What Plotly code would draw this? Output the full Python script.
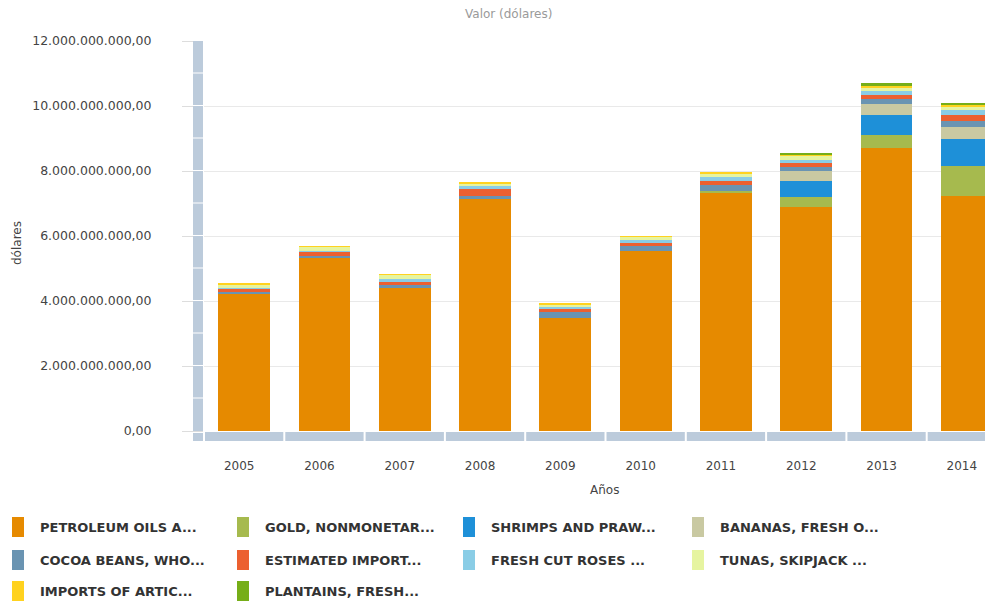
import plotly.graph_objects as go

# ---------------- data (values in US dollars) ----------------
years = ["2005", "2006", "2007", "2008", "2009", "2010", "2011", "2012", "2013", "2014"]

petroleum = [4.22e9, 5.35e9, 4.39e9, 7.14e9, 3.48e9, 5.55e9, 7.34e9, 6.90e9, 8.72e9, 7.22e9]
gold      = [0, 0, 0, 0, 0, 0, 0.05e9, 0.29e9, 0.38e9, 0.92e9]
shrimps   = [0, 0, 0, 0, 0, 0, 0, 0.49e9, 0.61e9, 0.86e9]
bananas   = [0, 0, 0, 0, 0, 0, 0, 0.33e9, 0.34e9, 0.34e9]
cocoa     = [0.05e9, 0.03e9, 0.10e9, 0.10e9, 0.17e9, 0.13e9, 0.17e9, 0.12e9, 0.17e9, 0.20e9]
estimated = [0.10e9, 0.13e9, 0.10e9, 0.20e9, 0.10e9, 0.10e9, 0.13e9, 0.12e9, 0.13e9, 0.17e9]
roses     = [0.02e9, 0.02e9, 0.10e9, 0.10e9, 0.07e9, 0.10e9, 0.12e9, 0.09e9, 0.10e9, 0.16e9]
tunas     = [0.13e9, 0.14e9, 0.12e9, 0.08e9, 0.08e9, 0.10e9, 0.12e9, 0.13e9, 0.13e9, 0.12e9]
imports   = [0.01e9, 0.01e9, 0.02e9, 0.02e9, 0.02e9, 0.02e9, 0.02e9, 0.02e9, 0.03e9, 0.04e9]
plantains = [0, 0, 0, 0, 0, 0, 0, 0.07e9, 0.10e9, 0.07e9]

series_names = ["PETROLEUM OILS A...", "GOLD, NONMONETAR...", "SHRIMPS AND PRAW...", "BANANAS, FRESH O...",
                "COCOA BEANS, WHO...", "ESTIMATED IMPORT...", "FRESH CUT ROSES ...", "TUNAS, SKIPJACK ...",
                "IMPORTS OF ARTIC...", "PLANTAINS, FRESH..."]
series_values = [petroleum, gold, shrimps, bananas, cocoa, estimated, roses, tunas, imports, plantains]
series_colors = ["#E68A00", "#A6BA4E", "#1E90D8", "#C9C9A2", "#6A94B2",
                 "#EC6030", "#8ACDE6", "#E6F4A0", "#FFD21F", "#76AE18"]

y_max = 12e9
y_dtick = 2e9
chart_title = "Valor (dólares)"
y_title = "dólares"
x_title = "Años"

# ---------------- layout geometry ----------------
# the page body has an 8px margin: figure origin sits at screen (8, 8)
OX, OY = 8, 8
W, H = 993 - OX, 601 - OY
L = 204 - OX          # plot-area left edge (screen 204)
T = 41 - OY           # plot-area top (screen 41)
BOT = 431 - OY        # plot-area bottom (screen 431)
R = 0
B = H - BOT
PW = W - L - R
PH = BOT - T
cat_px = 80.3
xmin = -0.5
xmax = xmin + PW / cat_px


def px_x(p):  # screen px -> paper x
    return (p - OX - L) / PW


def px_y(p):  # screen px -> paper y
    return (BOT - (p - OY)) / PH


fig = go.Figure()
for name, vals, col in zip(series_names, series_values, series_colors):
    fig.add_trace(go.Bar(x=years, y=vals, name=name, marker=dict(color=col, line=dict(width=0)),
                         width=0.644, showlegend=False))

band = "#BCCBDB"
shapes = []
# vertical axis wall with white separators every 1e9
n_seg = int(y_max / 1e9)
for k in range(n_seg):
    y0 = k / n_seg
    y1 = (k + 1) / n_seg
    shapes.append(dict(type="rect", xref="paper", yref="paper",
                       x0=px_x(193), x1=px_x(203), y0=y0 + (1.0 / PH if k > 0 else 0), y1=y1,
                       fillcolor=band, line=dict(width=0), layer="above"))
# corner square
shapes.append(dict(type="rect", xref="paper", yref="paper", x0=px_x(193), x1=px_x(203),
                   y0=px_y(441), y1=px_y(433), fillcolor=band, line=dict(width=0)))
# horizontal floor band, one segment per category
for i in range(len(years)):
    a = (i - 0.5 - xmin) / (xmax - xmin)
    b = (i + 0.5 - xmin) / (xmax - xmin)
    shapes.append(dict(type="rect", xref="paper", yref="paper",
                       x0=a + 1.0 / PW, x1=min(b - 1.0 / PW, 1.0),
                       y0=px_y(441), y1=px_y(432), fillcolor=band, line=dict(width=0)))

annotations = []
# legend (custom, 4 columns)
col_x = [12, 237, 463, 692]
row_y = [527, 560, 591]
for idx, (name, col) in enumerate(zip(series_names, series_colors)):
    cx = col_x[idx % 4]
    cy = row_y[idx // 4]
    shapes.append(dict(type="rect", xref="paper", yref="paper",
                       x0=px_x(cx), x1=px_x(cx + 12), y0=px_y(cy + 10), y1=px_y(cy - 10),
                       fillcolor=col, line=dict(width=0)))
    annotations.append(dict(xref="paper", yref="paper", x=px_x(cx + 26), y=px_y(cy),
                            xanchor="left", yanchor="middle", showarrow=False, text="<b>%s</b>" % name,
                            font=dict(family="DejaVu Sans", size=13, color="#333333")))

annotations.append(dict(xref="paper", yref="paper", x=px_x(508), y=px_y(14), showarrow=False,
                        text=chart_title, xanchor="center", yanchor="middle",
                        font=dict(family="DejaVu Sans", size=12, color="#9a9a9a")))
annotations.append(dict(xref="paper", yref="paper", x=px_x(17), y=px_y(243), showarrow=False,
                        text=y_title, textangle=-90, xanchor="center", yanchor="middle",
                        font=dict(family="DejaVu Sans", size=12, color="#444444")))
annotations.append(dict(xref="paper", yref="paper", x=px_x(604), y=px_y(490), showarrow=False,
                        text=x_title, xanchor="center", yanchor="middle",
                        font=dict(family="DejaVu Sans", size=12, color="#444444")))

fig.update_layout(
    width=W, height=H,
    margin=dict(l=L, r=R, t=T, b=B, pad=0),
    paper_bgcolor="white", plot_bgcolor="white",
    barmode="stack", bargap=0.356,
    separators=",.",
    showlegend=False,
    shapes=shapes,
    annotations=annotations,
    xaxis=dict(type="category", range=[xmin, xmax], showgrid=False, zeroline=False, showline=False,
               ticks="", ticklabelstandoff=26, ticklabelshift=-5,
               tickfont=dict(family="DejaVu Sans", size=12, color="#444444")),
    yaxis=dict(range=[0, y_max], dtick=y_dtick, tick0=0, tickformat=",.2f",
               showgrid=True, gridcolor="#E9E9E9", gridwidth=1, zeroline=False, showline=False,
               ticks="outside", ticklen=21, tickcolor="#DDDDDD", tickwidth=1,
               ticklabelstandoff=28,
               tickfont=dict(family="DejaVu Sans", size=12.5, color="#444444")),
)

fig.write_html("out.html")
